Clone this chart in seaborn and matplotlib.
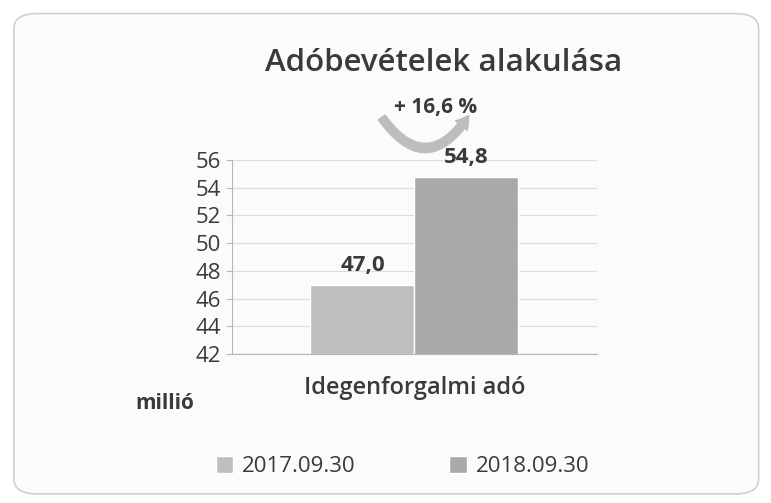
import pandas as pd
import matplotlib.pyplot as plt
import seaborn as sns
from matplotlib.patches import FancyBboxPatch, FancyArrowPatch

# Chart data
categories = ['Idegenforgalmi adó']
periods = ['2017.09.30', '2018.09.30']
values = [47.0, 54.8]
bar_colors = ['#bebebe', '#a9a9a9']
y_ticks = [42, 44, 46, 48, 50, 52, 54, 56]

df = pd.DataFrame({
    'category': categories * len(periods),
    'period': periods,
    'value': values,
})

sns.set_style('white')
plt.rcParams['font.family'] = ['Open Sans', 'DejaVu Sans']
text_color = '#3a3a3a'

fig = plt.figure(figsize=(7.71, 5.03), dpi=100)
fig.patch.set_facecolor('white')

# Rounded panel behind the chart
panel = FancyBboxPatch((0.018, 0.018), 0.966, 0.955,
                       boxstyle='round,pad=0,rounding_size=0.03',
                       transform=fig.transFigure, facecolor='#fbfbfb',
                       edgecolor='#cfcfcf', linewidth=1.2, zorder=-5)
fig.patches.append(panel)

ax = fig.add_axes([0.301, 0.296, 0.473, 0.386])
ax.set_facecolor('none')

sns.barplot(data=df, x='category', y='value', hue='period',
            palette=bar_colors, width=0.57, gap=0, saturation=1,
            ax=ax, zorder=3)

ax.set_ylim(42, 56)
ax.set_yticks(y_ticks)
ax.yaxis.grid(True, color='#dcdcdc', linewidth=0.9)
ax.set_axisbelow(True)
for s in ['top', 'right']:
    ax.spines[s].set_visible(False)
for s in ['left', 'bottom']:
    ax.spines[s].set_color('#b5b5b5')
ax.tick_params(axis='y', left=True, length=4, color='#b5b5b5',
               labelsize=16, labelcolor=text_color, pad=4)
ax.tick_params(axis='x', bottom=False, labelsize=17, labelcolor=text_color, pad=12)
for lbl in ax.get_xticklabels():
    lbl.set_fontweight('semibold')
ax.set_xlabel('')
ax.set_ylabel('')

# Value labels with decimal comma
for cont in ax.containers:
    ax.bar_label(cont, labels=[f'{v:.1f}'.replace('.', ',') for v in cont.datavalues],
                 padding=6, fontsize=16, fontweight='bold', color=text_color)

# Legend at the bottom
handles, labels = ax.get_legend_handles_labels()
ax.legend_.remove()
fig.legend(handles, labels, loc='lower center', bbox_to_anchor=(0.522, 0.012),
           ncol=2, frameon=False, fontsize=16, handlelength=0.8, handleheight=0.8,
           columnspacing=4.2, handletextpad=0.4, labelcolor=text_color)

# Title, unit and change annotation
fig.text(0.576, 0.875, 'Adóbevételek alakulása', ha='center', va='center',
         fontsize=22.5, fontweight='semibold', color=text_color)
fig.text(0.214, 0.198, 'millió', ha='center', va='center', fontsize=15,
         fontweight='bold', color=text_color)
fig.text(0.565, 0.787, '+ 16,6 %', ha='center', va='center', fontsize=15,
         fontweight='bold', color=text_color)
arrow = FancyArrowPatch((0.493, 0.771), (0.61, 0.775), transform=fig.transFigure,
                        connectionstyle='arc3,rad=0.75',
                        arrowstyle='simple,head_width=11,head_length=9,tail_width=6',
                        color='#bdbdbd', zorder=2)
fig.patches.append(arrow)

fig.savefig('out.png', dpi=100)
